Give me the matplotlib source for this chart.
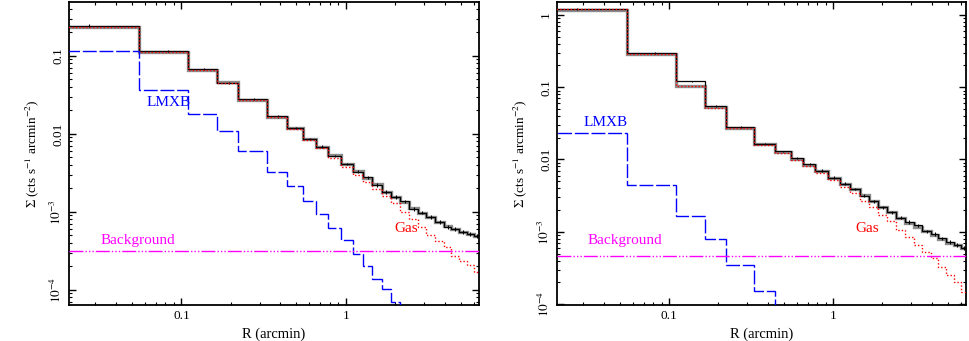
import numpy as np
import matplotlib
matplotlib.use('Agg')
import matplotlib.pyplot as plt
from matplotlib.ticker import FixedLocator, FuncFormatter, LogLocator, NullFormatter

plt.rcParams['font.family'] = ['Liberation Serif', 'DejaVu Serif']
plt.rcParams['mathtext.fontset'] = 'stix'

# radial bin edges (arcmin), shared by both panels
edges = [0.0, 0.055, 0.11, 0.165, 0.222, 0.33, 0.44, 0.55, 0.66, 0.78, 0.93, 1.1, 1.27,
         1.45, 1.66, 1.88, 2.14, 2.43, 2.74, 3.1, 3.48, 3.96, 4.39, 4.88, 5.44, 6.03, 6.6]
rel_err = [0.04, 0.03, 0.03, 0.03, 0.03, 0.03, 0.03, 0.035, 0.04, 0.04, 0.04, 0.045, 0.045,
           0.05, 0.05, 0.05, 0.05, 0.055, 0.055, 0.055, 0.06, 0.06, 0.06, 0.06, 0.06, 0.06]

# left panel
data_left = [0.243, 0.114, 0.067, 0.0455, 0.0279, 0.0167, 0.0119, 0.00855, 0.00688, 0.00522,
             0.00412, 0.00326, 0.00279, 0.00222, 0.00179, 0.00156, 0.00137, 0.0011, 0.00098,
             0.000855, 0.000738, 0.000648, 0.000605, 0.000548, 0.000522, 0.000492]
model_left = [0.232, 0.112, 0.066, 0.046, 0.0275, 0.0165, 0.0118, 0.0087, 0.0068, 0.0053,
              0.0041, 0.0033, 0.00275, 0.00225, 0.00182, 0.00155, 0.00135, 0.00112, 0.00097,
              0.00086, 0.00074, 0.00066, 0.0006, 0.00055, 0.00052, 0.00049]
gas_left = [0.235, 0.112, 0.066, 0.045, 0.0272, 0.0163, 0.0115, 0.0083, 0.0066, 0.0049,
            0.00381, 0.00298, 0.0024, 0.00197, 0.00158, 0.0013, 0.00101, 0.00081, 0.00064,
            0.000507, 0.000425, 0.000352, 0.000273, 0.000235, 0.00021, 0.000172]
lmxb_left = [0.114, 0.0363, 0.018, 0.0108, 0.0061, 0.00329, 0.00215, 0.00136, 0.00093,
             0.00063, 0.00043, 0.00029, 0.0002, 0.000137, 0.000102, 6.9e-5, 4.5e-5]
bkg_left = 3.13e-4

# right panel
data_right = [1.21, 0.301, 0.12, 0.055, 0.028, 0.0164, 0.0129, 0.0106, 0.0087, 0.00704,
              0.00562, 0.0046, 0.00392, 0.00317, 0.00265, 0.00219, 0.00187, 0.00157, 0.00137,
              0.00123, 0.00101, 0.00093, 0.00081, 0.00072, 0.00065, 0.0006]
model_right = [1.18, 0.29, 0.105, 0.053, 0.0275, 0.0162, 0.0126, 0.0103, 0.0085, 0.0069,
               0.0056, 0.0046, 0.0039, 0.0032, 0.00265, 0.0022, 0.00185, 0.00155, 0.00133,
               0.00118, 0.00101, 0.00091, 0.0008, 0.00071, 0.00065, 0.0006]
gas_right = [1.2, 0.29, 0.104, 0.052, 0.027, 0.0158, 0.0122, 0.0099, 0.0081, 0.0064,
             0.00522, 0.00414, 0.00349, 0.0027, 0.00219, 0.00171, 0.00139, 0.00106, 0.00084,
             0.00066, 0.00053, 0.00043, 0.00033, 0.000253, 0.0002, 0.000149]
lmxb_right = [0.0236, 0.00445, 0.00166, 0.00079, 0.00035, 0.000152, 6e-5]
bkg_right = 4.64e-4


def fmt_y(v, pos):
    e = int(round(np.log10(v)))
    names = {0: '1', -1: '0.1', -2: '0.01'}
    if e in names:
        return names[e]
    return r'$10^{%d}$' % e


def panel(ax, data, model, gas, lmxb, bkg, ylim, lmxb_xy, bkg_xy, gas_xy):
    e = np.asarray(edges)
    e_draw = np.maximum(e, 1e-3)
    centers = 0.5 * (e[:-1] + e[1:])
    d = np.asarray(data)

    ax.stairs(model, e_draw, baseline=None, color='#8c8c8c', lw=2.4, zorder=2)
    ax.stairs(d, e_draw, baseline=None, color='k', lw=0.9, zorder=3)
    ax.errorbar(centers, d, yerr=d * np.asarray(rel_err), fmt='none', ecolor='k',
                elinewidth=0.8, zorder=3)
    ax.stairs(gas, e_draw, baseline=None, color='red', lw=1.0, ls=(0, (1, 1.5)), zorder=4)
    ax.stairs(lmxb, e_draw[:len(lmxb) + 1], baseline=None, color='blue', lw=1.0,
              ls=(0, (10, 2)), zorder=4)
    ax.axhline(bkg, color='magenta', lw=1.0, ls=(0, (10, 1.5, 1, 1.5, 1, 1.5, 1, 1.5)), zorder=4)

    ax.text(*lmxb_xy, 'LMXB', color='blue', fontsize=11, ha='center', va='center')
    ax.text(*bkg_xy, 'Background', color='magenta', fontsize=11, ha='center', va='center')
    ax.text(*gas_xy, 'Gas', color='red', fontsize=11, ha='center', va='center')

    ax.set_xscale('log')
    ax.set_yscale('log')
    ax.set_xlim(0.0207, 6.47)
    ax.set_ylim(*ylim)

    ax.xaxis.set_major_locator(FixedLocator([0.1, 1]))
    ax.xaxis.set_major_formatter(FuncFormatter(lambda v, p: '0.1' if v < 0.5 else '1'))
    ax.xaxis.set_minor_locator(LogLocator(base=10, subs=np.arange(2, 10)))
    ax.xaxis.set_minor_formatter(NullFormatter())
    ax.yaxis.set_major_locator(LogLocator(base=10, numticks=10))
    ax.yaxis.set_major_formatter(FuncFormatter(fmt_y))
    ax.yaxis.set_minor_locator(LogLocator(base=10, subs=np.arange(2, 10), numticks=20))
    ax.yaxis.set_minor_formatter(NullFormatter())

    ax.tick_params(which='both', direction='in', top=True, right=True, labelsize=9.5)
    ax.tick_params(which='major', length=5, width=1.0)
    ax.tick_params(which='minor', length=2.5, width=0.8)
    ax.tick_params(axis='y', which='major', labelrotation=90)
    for lab in ax.get_yticklabels():
        lab.set_va('center')
    for s in ax.spines.values():
        s.set_linewidth(1.3)

    ax.set_xlabel('R (arcmin)', fontsize=10.5, labelpad=4)
    ax.set_ylabel(r'$\Sigma$ (cts s$^{-1}$ arcmin$^{-2}$)', fontsize=9.5, labelpad=6)


fig = plt.figure(figsize=(9.69, 3.41), dpi=100)
axL = fig.add_axes([69 / 969, 36 / 341, 410 / 969, 303 / 341])
axR = fig.add_axes([557 / 969, 36 / 341, 409 / 969, 303 / 341])

panel(axL, data_left, model_left, gas_left, lmxb_left, bkg_left, (6.4e-5, 0.49),
      (0.083, 0.025), (0.054, 4.25e-4), (2.32, 6.05e-4))
panel(axR, data_right, model_right, gas_right, lmxb_right, bkg_right, (9.7e-5, 1.51),
      (0.0407, 0.033), (0.054, 7.5e-4), (1.61, 1.1e-3))

fig.savefig('out.png', dpi=100)
